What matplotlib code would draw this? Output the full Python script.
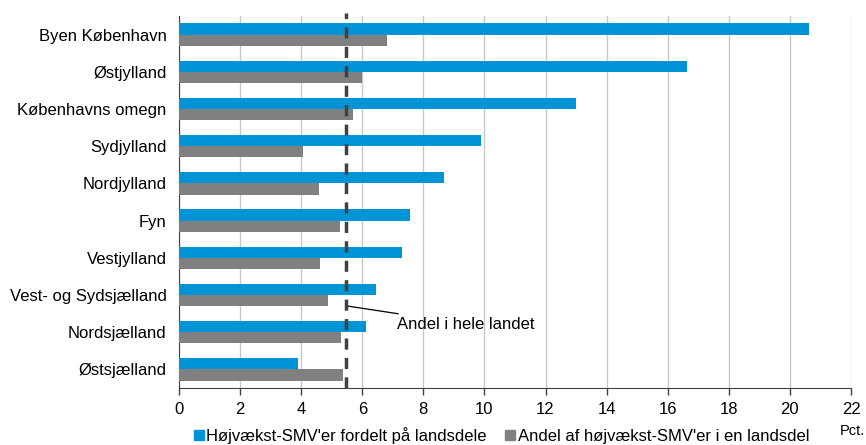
import matplotlib.pyplot as plt
from matplotlib.lines import Line2D
import numpy as np

plt.rcParams['font.family'] = ['Liberation Sans', 'DejaVu Sans']

regions = ['Byen København', 'Østjylland', 'Københavns omegn', 'Sydjylland',
           'Nordjylland', 'Fyn', 'Vestjylland', 'Vest- og Sydsjælland',
           'Nordsjælland', 'Østsjælland']
fordelt = [20.62, 16.63, 13.0, 9.89, 8.67, 7.56, 7.30, 6.45, 6.12, 3.90]
andel = [6.81, 5.99, 5.70, 4.06, 4.58, 5.27, 4.62, 4.88, 5.30, 5.37]
hele_landet = 5.47
xticks = list(range(0, 23, 2))

blue = '#0093d6'
grey = '#808080'

fig = plt.figure(figsize=(8.66, 4.45), dpi=100)
ax = fig.add_axes([0.2067, 0.128, 0.776, 0.836])

y = np.arange(len(regions))
h = 0.3
ax.barh(y - h / 2, fordelt, height=h, color=blue, zorder=3)
ax.barh(y + h / 2, andel, height=h, color=grey, zorder=3)

ax.set_xlim(0, 22)
ax.set_ylim(9.5, -0.5)
ax.set_xticks(xticks)
ax.set_xticklabels([str(t) for t in xticks], fontsize=12)
ax.set_yticks(y)
ax.set_yticklabels(regions, fontsize=12)
ax.tick_params(axis='y', length=0, pad=9)
ax.tick_params(axis='x', direction='out', length=5, width=1, color='#404040', pad=5)

ax.grid(axis='x', color='#c8c8c8', linewidth=1, zorder=0)
for s in ['top', 'right']:
    ax.spines[s].set_visible(False)
ax.spines['left'].set_color('#404040')
ax.spines['bottom'].set_color('#404040')

ax.plot([hele_landet, hele_landet], [9.5, -0.58], color='#404040', linewidth=2.5,
        linestyle=(0, (3.2, 2.4)), zorder=4, clip_on=False)
ax.annotate('Andel i hele landet', xy=(hele_landet, 7.29), xytext=(7.14, 7.78),
            fontsize=12, va='center', ha='left',
            arrowprops=dict(arrowstyle='-', color='black', linewidth=0.9,
                            shrinkA=0, shrinkB=0))

fig.text(0.999, 0.032, 'Pct.', fontsize=10.5, ha='right', va='center')

handles = [Line2D([], [], marker='s', linestyle='', color=blue, markersize=7),
           Line2D([], [], marker='s', linestyle='', color=grey, markersize=7)]
fig.legend(handles, ["Højvækst-SMV'er fordelt på landsdele",
                     "Andel af højvækst-SMV'er i en landsdel"],
           loc='center', bbox_to_anchor=(0.578, 0.022), ncol=2, frameon=False,
           fontsize=12, handletextpad=0.05, columnspacing=1.0, handlelength=0.8,
           borderpad=0.1)

fig.savefig('out.png', dpi=100)
